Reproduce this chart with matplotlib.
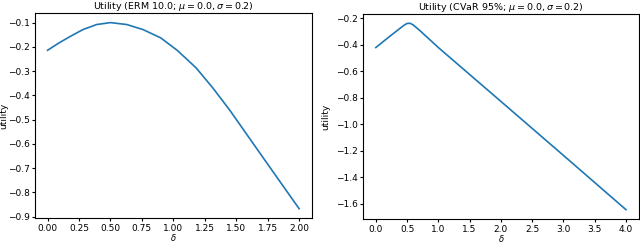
import numpy as np
import matplotlib
matplotlib.use('Agg')
import matplotlib.pyplot as plt

# values
delta_erm = [0.0, 0.09, 0.18, 0.28, 0.39, 0.5, 0.63, 0.76, 0.9, 1.03,
             1.18, 1.315, 1.45, 1.58, 1.71, 1.85, 2.0]
util_erm = [-0.214, -0.184, -0.157, -0.129, -0.108, -0.100, -0.108, -0.129,
            -0.163, -0.214, -0.286, -0.370, -0.462, -0.558, -0.654, -0.757, -0.867]

delta_cvar = [0.0, 0.2, 0.4, 0.45, 0.5, 0.55, 0.6, 0.7, 1.0, 2.0, 3.0, 4.0]
util_cvar = [-0.42, -0.344, -0.27, -0.252, -0.238, -0.237, -0.25, -0.29,
             -0.42, -0.827, -1.235, -1.645]

titles = [r'Utility (ERM 10.0; $\mu = 0.0, \sigma = 0.2$)',
          r'Utility (CVaR 95%; $\mu = 0.0, \sigma = 0.2$)']

plt.rcParams['font.size'] = 6.5

fig = plt.figure(figsize=(6.4, 2.42), dpi=100)
ax1 = fig.add_axes([35 / 640, 1 - 218 / 242, (311.7 - 35) / 640, (218 - 13.3) / 242])
ax2 = fig.add_axes([363.3 / 640, 1 - 219 / 242, (638.5 - 363.3) / 640, (219 - 14) / 242])

ax1.plot(delta_erm, util_erm, color='#1f77b4', lw=1.2)
ax1.set_xticks(np.arange(0, 2.01, 0.25))
ax1.set_yticks(np.arange(-0.9, -0.09, 0.1))

ax2.plot(delta_cvar, util_cvar, color='#1f77b4', lw=1.2)
ax2.set_xticks(np.arange(0, 4.01, 0.5))
ax2.set_yticks(np.arange(-1.6, -0.19, 0.2))

for ax, t, ylx, xly in zip([ax1, ax2], titles, [-0.095, -0.12], [-0.07, -0.066]):
    ax.set_title(t, fontsize=6.8, pad=3)
    ax.set_xlabel(r'$\delta$', fontsize=6)
    ax.set_ylabel('utility')
    ax.xaxis.set_label_coords(0.5, xly)
    ax.yaxis.set_label_coords(ylx, 0.5)
    ax.tick_params(labelsize=6.5, length=2.5, pad=1.5)

fig.savefig('out.png', dpi=100)
